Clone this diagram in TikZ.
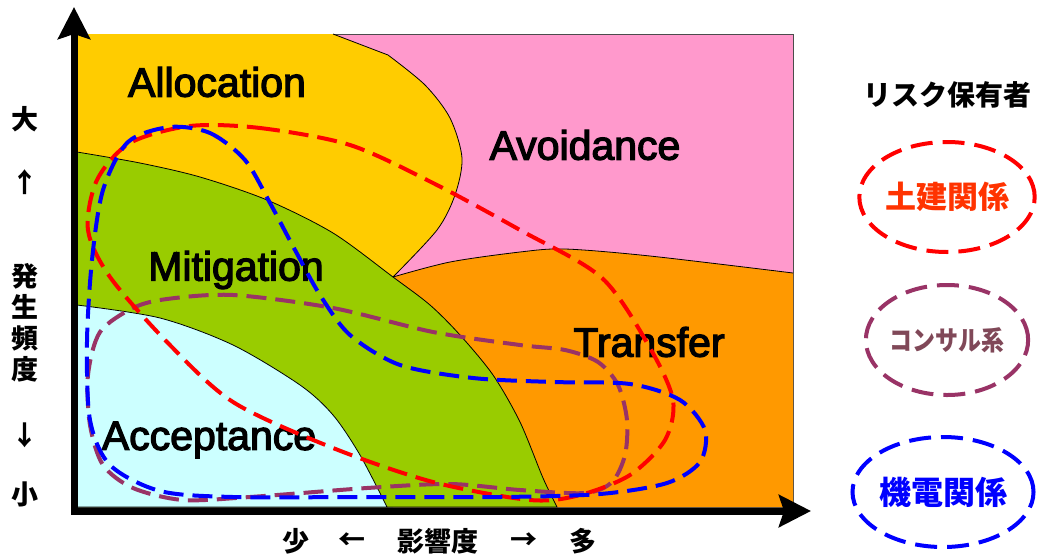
\documentclass[tikz,border=0pt]{standalone}
\usepackage{fontspec}
\usetikzlibrary{arrows.meta,shapes.geometric}
\newfontfamily\jp{Noto Sans CJK JP}
\newfontfamily\lab[FakeBold=3]{Liberation Sans}
\definecolor{cYel}{HTML}{FFCC00}
\definecolor{cPink}{HTML}{FF99CC}
\definecolor{cOra}{HTML}{FF9900}
\definecolor{cGrn}{HTML}{99CC00}
\definecolor{cCya}{HTML}{CCFFFF}
\definecolor{cRed}{HTML}{FF0000}
\definecolor{cBlu}{HTML}{0000FF}
\definecolor{cPur}{HTML}{993366}
\definecolor{tRed}{HTML}{FF3300}
\definecolor{tPur}{HTML}{804858}
\tikzset{
  bnd/.style={draw=black,line width=0.8pt},
  loopline/.style={line width=4pt,dash pattern=on 20pt off 9pt},
  reglab/.style={font=\lab\fontsize{41}{41}\selectfont,inner sep=0pt},
  axlab/.style={font=\jp\bfseries\fontsize{27}{27}\selectfont,inner sep=0pt},
  legell/.style={ellipse,line width=4pt,dash pattern=on 22pt off 10pt,minimum width=160pt,minimum height=110pt,inner sep=0pt},
}
\begin{document}
\begin{tikzpicture}[x=1pt,y=-1pt]
\useasboundingbox (0,0) rectangle (1040,555);
\fill[white] (0,0) rectangle (1040,555);
% pink (whole plot area)
\filldraw[fill=cPink,draw=black!70,line width=1pt] (77,34) rectangle (793,507);
% orange
\fill[cOra] (393,277) -- plot[smooth] coordinates {(393,277) (450,262) (520,252) (565,249) (650,256) (793,273)} -- (793,507) -- (393,507) -- cycle;
\draw[bnd] plot[smooth] coordinates {(393,277) (450,262) (520,252) (565,249) (650,256) (793,273)};
% yellow
\fill[cYel] (77,34) -- (333,34) -- (388,55) -- plot[smooth] coordinates {(388,55) (425,85) (450,118) (462,158) (455,195) (437,230) (393,277)} -- (77,300) -- cycle;
\draw[bnd] (333,34) -- (388,55) -- plot[smooth] coordinates {(388,55) (425,85) (450,118) (462,158) (455,195) (437,230) (393,277)};
% green
\filldraw[fill=cGrn,bnd] plot[smooth] coordinates {(77,152) (140,163) (200,177) (267,200) (333,233) (393,277) (430,305) (460,335) (493,375) (520,422) (543,478) (557,507)} -- (77,507) -- cycle;
% cyan
\filldraw[fill=cCya,bnd] plot[smooth] coordinates {(77,305) (160,318) (233,345) (300,385) (333,415) (360,455) (387,507)} -- (77,507) -- cycle;
% region labels
\node[reglab] (allo) at (217,82) {Allocation};
\node[reglab] (avoi) at (585,145) {Avoidance};
\node[reglab] (miti) at (236,270) {Mitigation};
\node[reglab] (tran) at (649,342) {Transfer};
\node[reglab] (acce) at (209,440) {Acceptance};
% loops
\draw[loopline,cPur] plot[smooth cycle] coordinates {(133,308) (100,332) (88,375) (90,425) (103,465) (133,488) (183,500) (250,497) (367,488) (450,484) (520,490) (585,493) (612,482) (625,455) (627,420) (618,385) (598,362) (565,350) (520,345) (433,332) (333,308) (233,295) (167,299)};
\draw[loopline,cRed] plot[smooth cycle] coordinates {(190,126) (260,128) (350,145) (433,183) (520,230) (602,278) (650,348) (673,400) (665,440) (630,475) (580,495) (530,500) (433,482) (333,448) (233,402) (167,342) (110,277) (88,230) (97,180) (130,143)};
\draw[loopline,cBlu] plot[smooth cycle] coordinates {(170,127) (210,133) (245,160) (270,203) (295,250) (320,295) (350,335) (400,365) (473,378) (553,382) (630,384) (680,400) (705,430) (700,462) (667,483) (600,494) (500,497) (367,497) (233,497) (160,491) (110,465) (90,420) (87,342) (92,260) (103,190) (128,142)};
% axes
\coordinate (ytip) at (74,7);
\coordinate (orig) at (74,511);
\coordinate (xtip) at (811,511);
\draw[line width=7pt,miter limit=10,{Stealth[length=32pt,width=32pt,inset=5pt]}-{Stealth[length=32pt,width=32pt,inset=5pt]}] (ytip) -- (orig) -- (xtip);
% axis labels
\node[axlab] (big) at (25,119) {大};
\node[axlab] (up) at (25,182) {↑};
\node[axlab] (y1) at (25,276) {発};
\node[axlab] (y2) at (25,307) {生};
\node[axlab] (y3) at (25,338) {頻};
\node[axlab] (y4) at (25,369) {度};
\node[axlab] (dn) at (25,435) {↓};
\node[axlab] (small) at (25,494) {小};
\node[axlab] (few) at (296,541) {少};
\node[axlab] (la) at (352,541) {←};
\node[axlab] (imp) at (438,541) {影響度};
\node[axlab] (ra) at (524,541) {→};
\node[axlab] (many) at (583,541) {多};
% legend
\node[font=\jp\bfseries\fontsize{28}{28}\selectfont,inner sep=0pt] (ltitle) at (947,95) {リスク保有者};
\node[legell,draw=cRed,text=tRed,font=\jp\bfseries\fontsize{31}{31}\selectfont] (civ) at (947,197) {土建関係};
\node[legell,draw=cPur,text=tPur,font=\jp\bfseries\fontsize{27}{27}\selectfont] (con) at (947,340) {\scalebox{0.85}[1]{コンサル系}};
\node[legell,draw=cBlu,text=cBlu,font=\jp\bfseries\fontsize{32}{32}\selectfont] (mech) at (943,492) {機電関係};
\end{tikzpicture}
\end{document}
